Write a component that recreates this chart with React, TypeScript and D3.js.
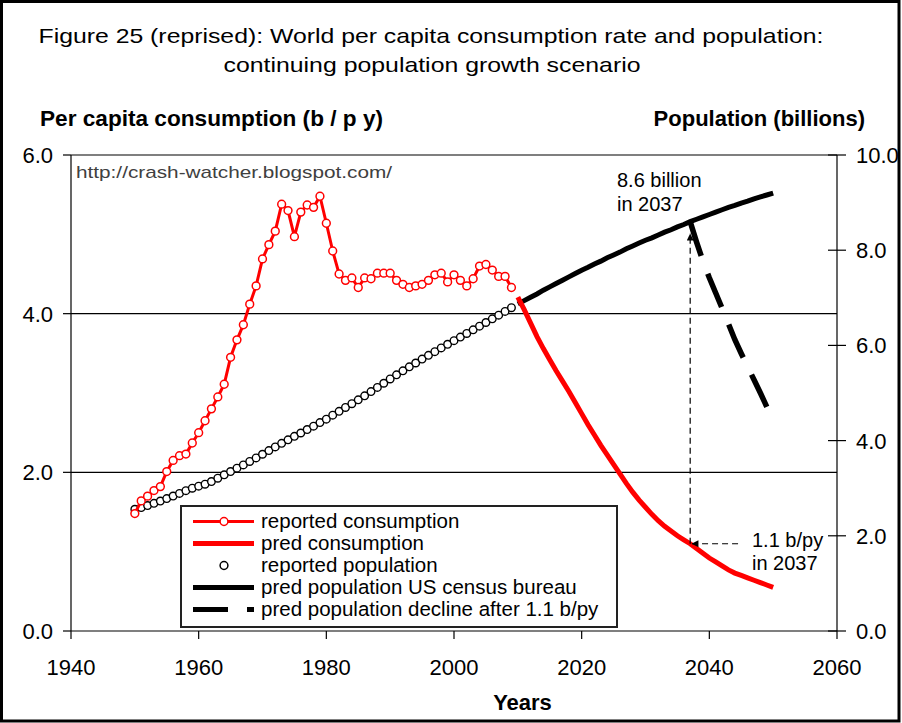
import React, { useEffect, useRef } from 'react';
import * as d3 from 'd3';

// values
const reportedStart = 1950;
const reportedConsumption = [
  1.48, 1.64, 1.70, 1.77, 1.82, 2.01, 2.15, 2.21, 2.23, 2.37,
  2.50, 2.65, 2.80, 2.95, 3.11, 3.45, 3.67, 3.86, 4.12, 4.35,
  4.69, 4.87, 5.04, 5.38, 5.30, 4.97, 5.28, 5.37, 5.34, 5.48,
  5.14, 4.79, 4.50, 4.42, 4.45, 4.33, 4.45, 4.44, 4.51, 4.51,
  4.51, 4.42, 4.37, 4.33, 4.35, 4.37, 4.42, 4.49, 4.51, 4.40,
  4.49, 4.42, 4.35, 4.44, 4.60, 4.62, 4.55, 4.47, 4.47, 4.33
];
const reportedPopulation = [
  2.557, 2.594, 2.636, 2.682, 2.730, 2.782, 2.835, 2.891, 2.948, 3.000,
  3.043, 3.084, 3.140, 3.210, 3.281, 3.350, 3.421, 3.490, 3.562, 3.637,
  3.713, 3.790, 3.867, 3.942, 4.016, 4.089, 4.160, 4.232, 4.304, 4.379,
  4.451, 4.534, 4.615, 4.696, 4.775, 4.856, 4.941, 5.029, 5.117, 5.205,
  5.295, 5.381, 5.465, 5.549, 5.630, 5.712, 5.791, 5.869, 5.947, 6.023,
  6.099, 6.175, 6.251, 6.327, 6.404, 6.481, 6.558, 6.636, 6.714, 6.792
];
const predStart = 2010;
const predConsumption = [
  4.21, 4.05, 3.88, 3.71, 3.56, 3.42, 3.28, 3.15, 3.02, 2.88,
  2.74, 2.60, 2.47, 2.34, 2.22, 2.10, 1.98, 1.86, 1.75, 1.65,
  1.56, 1.47, 1.39, 1.32, 1.26, 1.20, 1.15, 1.10, 1.04, 0.98,
  0.92, 0.87, 0.82, 0.77, 0.73, 0.70, 0.67, 0.64, 0.61, 0.58,
  0.55
];
const predPopulation = [
  6.87, 6.94, 7.01, 7.08, 7.16, 7.23, 7.30, 7.37, 7.44, 7.51,
  7.58, 7.64, 7.71, 7.77, 7.84, 7.90, 7.96, 8.03, 8.09, 8.15,
  8.21, 8.26, 8.32, 8.38, 8.43, 8.49, 8.54, 8.60, 8.65, 8.70,
  8.75, 8.80, 8.85, 8.90, 8.94, 8.99, 9.03, 9.08, 9.12, 9.16,
  9.20
];
const declineStart = 2037;
const declinePopulation = [8.60, 8.17, 7.77, 7.42, 7.10, 6.78, 6.45, 6.12, 5.83, 5.55, 5.28, 5.00, 4.71];

const xTicks = [1940, 1960, 1980, 2000, 2020, 2040, 2060];
const leftTicks = [0, 2, 4, 6];
const rightTicks = [0, 2, 4, 6, 8, 10];

const legendLabels = [
  'reported consumption',
  'pred consumption',
  'reported population',
  'pred population US census bureau',
  'pred population decline after 1.1 b/py'
];

const FONT = '"Liberation Sans", Arial, Helvetica, sans-serif';

const App: React.FC = () => {
  const svgRef = useRef<SVGSVGElement>(null);
  const width = 902;
  const height = 723;

  useEffect(() => {
    if (!svgRef.current) return;
    const svg = d3.select(svgRef.current);
    svg.selectAll('*').remove();

    const x = d3.scaleLinear().domain([1940, 2060]).range([71, 837]);
    const yL = d3.scaleLinear().domain([0, 6]).range([631, 155]);
    const yR = d3.scaleLinear().domain([0, 10]).range([631, 155]);
    const [x0, x1] = x.range();

    svg.append('rect').attr('width', width).attr('height', height).attr('fill', '#fff');

    const defs = svg.append('defs');
    defs.append('marker')
      .attr('id', 'arrow')
      .attr('viewBox', '0 0 10 10')
      .attr('refX', 10).attr('refY', 5)
      .attr('markerWidth', 9).attr('markerHeight', 7)
      .attr('markerUnits', 'userSpaceOnUse')
      .attr('orient', 'auto')
      .append('path').attr('d', 'M0,0L10,5L0,10Z').attr('fill', '#000');

    // titles
    const title = svg.append('g').attr('font-family', FONT).attr('font-size', 21).attr('text-anchor', 'middle');
    title.append('text').attr('x', 431).attr('y', 43)
      .attr('textLength', 785).attr('lengthAdjust', 'spacingAndGlyphs')
      .text('Figure 25 (reprised): World per capita consumption rate and population:');
    title.append('text').attr('x', 432).attr('y', 71.5)
      .attr('textLength', 417).attr('lengthAdjust', 'spacingAndGlyphs')
      .text('continuing population growth scenario');

    svg.append('text').attr('x', 40).attr('y', 126)
      .attr('font-family', FONT).attr('font-size', 22).attr('font-weight', 'bold')
      .attr('textLength', 343).attr('lengthAdjust', 'spacingAndGlyphs')
      .text('Per capita consumption (b / p y)');
    svg.append('text').attr('x', 865).attr('y', 126).attr('text-anchor', 'end')
      .attr('font-family', FONT).attr('font-size', 22).attr('font-weight', 'bold')
      .text('Population (billions)');
    svg.append('text').attr('x', 522.5).attr('y', 710).attr('text-anchor', 'middle')
      .attr('font-family', FONT).attr('font-size', 22).attr('font-weight', 'bold')
      .text('Years');

    // grid lines
    svg.append('g').selectAll('line')
      .data(leftTicks.filter(d => d > 0))
      .join('line')
      .attr('x1', x0).attr('x2', x1)
      .attr('y1', d => yL(d)).attr('y2', d => yL(d))
      .attr('stroke', '#000').attr('stroke-width', 1.2);

    // axes
    const axes = svg.append('g').attr('stroke', '#000').attr('stroke-width', 1.2);
    axes.append('line').attr('x1', x0).attr('x2', x0).attr('y1', 155).attr('y2', 631);
    axes.append('line').attr('x1', x1).attr('x2', x1).attr('y1', 155).attr('y2', 631);
    axes.append('line').attr('x1', x0).attr('x2', x1).attr('y1', 631).attr('y2', 631);
    axes.selectAll('.lt').data(leftTicks).join('line').attr('class', 'lt')
      .attr('x1', x0 - 8).attr('x2', x0).attr('y1', d => yL(d)).attr('y2', d => yL(d));
    axes.selectAll('.rt').data(rightTicks).join('line').attr('class', 'rt')
      .attr('x1', x1 - 9).attr('x2', x1 + 9).attr('y1', d => yR(d)).attr('y2', d => yR(d));
    axes.selectAll('.xt').data(xTicks).join('line').attr('class', 'xt')
      .attr('x1', d => x(d)).attr('x2', d => x(d)).attr('y1', 631).attr('y2', 639);

    const fmt = d3.format('.1f');
    const labels = svg.append('g').attr('font-family', FONT).attr('font-size', 22);
    labels.selectAll('.ll').data(leftTicks).join('text').attr('class', 'll')
      .attr('x', 53).attr('y', d => yL(d)).attr('dy', '0.36em').attr('text-anchor', 'end')
      .text(d => fmt(d));
    labels.selectAll('.rl').data(rightTicks).join('text').attr('class', 'rl')
      .attr('x', 856).attr('y', d => yR(d)).attr('dy', '0.36em')
      .text(d => fmt(d));
    labels.selectAll('.xl').data(xTicks).join('text').attr('class', 'xl')
      .attr('x', d => x(d)).attr('y', 675).attr('text-anchor', 'middle')
      .text(d => String(d));

    svg.append('text').attr('x', 76).attr('y', 178)
      .attr('font-family', FONT).attr('font-size', 17).attr('fill', '#404040')
      .attr('textLength', 316).attr('lengthAdjust', 'spacingAndGlyphs')
      .text('http://crash-watcher.blogspot.com/');

    // series
    const line = d3.line<number>();
    const reportedYears = reportedConsumption.map((_, i) => reportedStart + i);

    svg.append('g').selectAll('circle')
      .data(reportedPopulation)
      .join('circle')
      .attr('cx', (_, i) => x(reportedStart + i)).attr('cy', d => yR(d))
      .attr('r', 3.8).attr('fill', '#fff').attr('stroke', '#000').attr('stroke-width', 1.4);

    svg.append('path')
      .attr('d', d3.line<number>().x((_, i) => x(predStart + i)).y(d => yR(d))(predPopulation))
      .attr('fill', 'none').attr('stroke', '#000').attr('stroke-width', 5);

    svg.append('path')
      .attr('d', d3.line<number>().x((_, i) => x(declineStart + i)).y(d => yR(d))(declinePopulation))
      .attr('fill', 'none').attr('stroke', '#000').attr('stroke-width', 5.5)
      .attr('stroke-dasharray', '36,19');

    svg.append('path')
      .attr('d', d3.line<number>().x((_, i) => x(predStart + i)).y(d => yL(d))(predConsumption))
      .attr('fill', 'none').attr('stroke', '#ff0000').attr('stroke-width', 5);

    svg.append('path')
      .attr('d', line.x((_, i) => x(reportedYears[i])).y(d => yL(d))(reportedConsumption))
      .attr('fill', 'none').attr('stroke', '#ff0000').attr('stroke-width', 3);

    svg.append('g').selectAll('circle')
      .data(reportedConsumption)
      .join('circle')
      .attr('cx', (_, i) => x(reportedYears[i])).attr('cy', d => yL(d))
      .attr('r', 3.9).attr('fill', '#fff').attr('stroke', '#ff0000').attr('stroke-width', 1.5);

    // annotation arrows
    const ann = svg.append('g').attr('stroke', '#000').attr('stroke-width', 1.2).attr('stroke-dasharray', '6,4');
    ann.append('line')
      .attr('x1', x(2037)).attr('y1', yL(1.1))
      .attr('x2', x(2037)).attr('y2', yR(8.35))
      .attr('marker-end', 'url(#arrow)');
    ann.append('line')
      .attr('x1', x(2044.5)).attr('y1', yL(1.1))
      .attr('x2', x(2037.2)).attr('y2', yL(1.1))
      .attr('marker-end', 'url(#arrow)');

    const note = svg.append('g').attr('font-family', FONT).attr('font-size', 20);
    note.append('text').attr('x', 617).attr('y', 187).text('8.6 billion');
    note.append('text').attr('x', 617).attr('y', 211).text('in 2037');
    note.append('text').attr('x', 752).attr('y', 547).text('1.1 b/py');
    note.append('text').attr('x', 752).attr('y', 570).text('in 2037');

    // legend
    const lg = svg.append('g');
    lg.append('rect').attr('x', 181).attr('y', 506).attr('width', 436).attr('height', 121)
      .attr('fill', '#fff').attr('stroke', '#222').attr('stroke-width', 2);
    const rows = lg.selectAll('g').data(legendLabels).join('g')
      .attr('transform', (_, i) => `translate(0,${521.5 + i * 22})`);
    rows.append('text').attr('x', 261).attr('y', 6.5)
      .attr('font-family', FONT).attr('font-size', 20.5)
      .text(d => d);
    rows.filter((_, i) => i === 0 || i === 1).append('line')
      .attr('x1', 193).attr('x2', 254).attr('stroke', '#ff0000')
      .attr('stroke-width', (_, i) => (i === 0 ? 3 : 5));
    rows.filter((_, i) => i === 0 || i === 2).append('circle')
      .attr('cx', 224).attr('r', 3.9).attr('fill', '#fff')
      .attr('stroke', (_, i) => (i === 0 ? '#ff0000' : '#000')).attr('stroke-width', 1.5);
    rows.filter((_, i) => i === 3 || i === 4).append('line')
      .attr('x1', 193).attr('x2', 254).attr('stroke', '#000')
      .attr('stroke-width', 5)
      .attr('stroke-dasharray', (_, i) => (i === 0 ? null : '35,19'));

    // outer frame
    svg.append('rect').attr('x', 1.5).attr('y', 1.5).attr('width', 897.5).attr('height', 719.5)
      .attr('fill', 'none').attr('stroke', '#000').attr('stroke-width', 3);
  }, []);

  return (
    <>
      <style>{'body{margin:0}'}</style>
      <svg ref={svgRef} width={width} height={height} style={{ display: 'block' }}></svg>
    </>
  );
};

export default App;
